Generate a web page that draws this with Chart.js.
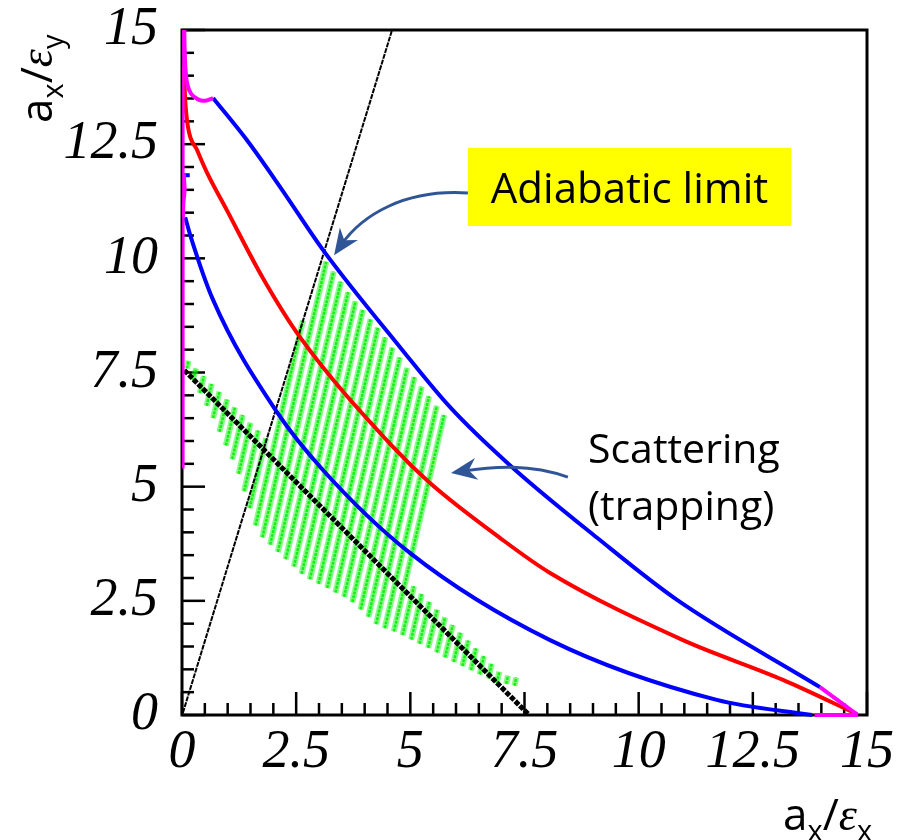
<!DOCTYPE html>
<html>
<head>
<meta charset="utf-8">
<script src="https://cdn.jsdelivr.net/npm/chart.js@4.4.1/dist/chart.umd.min.js"></script>
<style>
  html, body { margin: 0; padding: 0; background: #fff; }
  canvas { display: block; }
</style>
</head>
<body>
<canvas id="phase" width="911" height="840"></canvas>
<script>
// axis ticks (labelled every 2.5, small ticks every 0.5)
const majorTicks = [0, 2.5, 5, 7.5, 10, 12.5, 15];
const minorStep = 0.5;

// outer blue curve = adiabatic limit, with its magenta ends
const outerPinkX = [0.05, 0.06, 0.08, 0.12, 0.2, 0.35, 0.5, 0.68];
const outerPinkY = [15, 14.5, 14.1, 13.8, 13.6, 13.48, 13.45, 13.51];
const outerBlueX = [0.68, 1.42, 2.15, 3.09, 4.77, 5.87, 7.18, 9.09, 10.84, 13.97];
const outerBlueY = [13.51, 12.59, 11.56, 10.18, 8.06, 6.74, 5.47, 3.88, 2.52, 0.61];
const outerTailX = [13.97, 14.8];
const outerTailY = [0.61, 0.0];

// red middle curve
const redX = [0.04, 0.07, 0.13, 0.33, 0.55, 0.99, 1.77, 2.58, 4.62, 5.43, 6.96, 8.06, 10.97, 13.16, 14.78];
const redY = [14.19, 13.47, 12.88, 12.37, 11.87, 11.04, 9.57, 8.28, 5.87, 5.08, 3.88, 3.11, 1.64, 0.77, 0.02];

// inner blue curve
const innerBlueX = [0.07, 0.18, 0.68, 2.08, 3.09, 4.99, 8.06, 11.71, 13.8];
const innerBlueY = [10.9, 10.51, 9.09, 6.63, 5.36, 3.55, 1.64, 0.33, 0.0];
const innerTailX = [13.85, 14.8];
const innerTailY = [0.0, 0.0];
const innerSpikeX = [0.05, 0.07, 0.04, 0.03];
const innerSpikeY = [11.85, 11.5, 11.2, 10.9];
const innerCapX = [0.04, 0.17];
const innerCapY = [11.82, 11.82];
const axisPinkX = [0.03, 0.03];
const axisPinkY = [15, 5.4];

// straight lines
const diagX = [0.05, 7.58];
const diagY = [7.55, 0.02];
const thinX = [0.02, 4.6];
const thinY = [0.05, 15];

// scattered (trapped) particles: one stripe per trajectory, start -> end
const stripeStart = [
  [0.11, 7.59], [0.24, 7.33], [0.39, 7.05], [0.54, 6.77], [0.68, 6.50], [0.82, 6.20],
  [0.96, 5.90], [1.10, 5.60], [1.24, 5.28], [1.36, 4.90], [1.48, 4.53], [1.61, 4.15],
  [1.76, 3.89], [1.93, 3.73], [2.10, 3.57], [2.27, 3.41], [2.45, 3.25], [2.62, 3.09],
  [2.80, 2.97], [2.99, 2.87], [3.18, 2.78], [3.36, 2.68], [3.55, 2.59], [3.73, 2.47],
  [3.91, 2.31], [4.08, 2.15], [4.25, 1.99], [4.44, 1.90], [4.64, 1.83], [4.83, 1.75],
  [5.02, 1.65], [5.20, 1.56], [5.39, 1.47], [5.58, 1.37], [5.76, 1.26], [5.95, 1.16],
  [6.14, 1.07], [6.33, 0.98], [6.52, 0.89], [6.71, 0.80], [6.89, 0.70], [7.10, 0.68],
  [7.28, 0.64]
];
const stripeEnd = [
  [0.14, 7.76], [0.31, 7.59], [0.48, 7.42], [0.65, 7.25], [0.82, 7.08], [0.99, 6.91],
  [1.16, 6.74], [1.33, 6.57], [1.50, 6.40], [1.67, 6.23], [1.84, 6.06], [2.65, 8.64],
  [3.16, 9.93], [3.32, 9.71], [3.48, 9.49], [3.64, 9.26], [3.80, 9.06], [3.96, 8.87],
  [4.13, 8.67], [4.29, 8.48], [4.45, 8.27], [4.61, 8.05], [4.77, 7.83], [4.93, 7.60],
  [5.09, 7.40], [5.25, 7.19], [5.41, 6.98], [5.58, 6.77], [5.74, 6.57], [5.08, 2.82],
  [5.25, 2.65], [5.42, 2.48], [5.59, 2.31], [5.76, 2.14], [5.93, 1.97], [6.10, 1.80],
  [6.27, 1.63], [6.44, 1.46], [6.61, 1.29], [6.78, 1.12], [6.95, 0.95], [7.14, 0.86],
  [7.32, 0.82]
];

const pts = (xs, ys) => xs.map((x, i) => ({ x: x, y: ys[i] }));

const stripePoints = [];
stripeStart.forEach((s, i) => {
  const e = stripeEnd[i];
  stripePoints.push({ x: s[0], y: s[1] }, { x: e[0], y: e[1] }, { x: e[0], y: null });
});

const isMajor = v => Math.abs(v / 2.5 - Math.round(v / 2.5)) < 1e-6;

function curve(data, color, order, extra) {
  return Object.assign({
    data: data,
    showLine: true,
    borderColor: color,
    borderWidth: 4,
    pointRadius: 0,
    cubicInterpolationMode: 'monotone',
    clip: 6,
    order: order
  }, extra || {});
}

// frame plus inward tick marks, drawn under the data
const frameTicks = {
  id: 'frameTicks',
  beforeDatasetsDraw(chart) {
    const { ctx, chartArea: a, scales: { x, y } } = chart;
    ctx.save();
    ctx.strokeStyle = '#000';
    ctx.lineWidth = 3;
    ctx.strokeRect(a.left, a.top, a.right - a.left, a.bottom - a.top);
    ctx.lineWidth = 2.5;
    x.ticks.forEach(t => {
      const px = x.getPixelForValue(t.value);
      ctx.beginPath();
      ctx.moveTo(px, a.bottom);
      ctx.lineTo(px, a.bottom - (isMajor(t.value) ? 23 : 12));
      ctx.stroke();
    });
    y.ticks.forEach(t => {
      const py = y.getPixelForValue(t.value);
      ctx.beginPath();
      ctx.moveTo(a.left, py);
      ctx.lineTo(a.left + (isMajor(t.value) ? 23 : 12), py);
      ctx.stroke();
    });
    ctx.restore();
  }
};

function drawArrow(ctx, p0, c1, c2, tip) {
  const dx = tip[0] - c2[0], dy = tip[1] - c2[1];
  const len = Math.hypot(dx, dy);
  const ux = dx / len, uy = dy / len;
  const head = 26, half = 11, notch = 8;
  ctx.beginPath();
  ctx.moveTo(p0[0], p0[1]);
  ctx.bezierCurveTo(c1[0], c1[1], c2[0], c2[1], tip[0] - ux * notch * 1.5, tip[1] - uy * notch * 1.5);
  ctx.stroke();
  const bx = tip[0] - ux * head, by = tip[1] - uy * head;
  ctx.beginPath();
  ctx.moveTo(tip[0], tip[1]);
  ctx.lineTo(bx - uy * half, by + ux * half);
  ctx.lineTo(tip[0] - ux * (head - notch), tip[1] - uy * (head - notch));
  ctx.lineTo(bx + uy * half, by - ux * half);
  ctx.closePath();
  ctx.fill();
}

// callouts, placed in data units
const callouts = {
  id: 'callouts',
  afterDatasetsDraw(chart) {
    const { ctx, scales: { x, y } } = chart;
    const P = (u, v) => [x.getPixelForValue(u), y.getPixelForValue(v)];
    ctx.save();
    const b0 = P(6.26, 12.42), b1 = P(13.34, 10.71);
    ctx.fillStyle = '#ffff00';
    ctx.fillRect(b0[0], b0[1], b1[0] - b0[0], b1[1] - b0[1]);
    ctx.fillStyle = '#000';
    ctx.font = '42px "Open Sans"';
    ctx.textAlign = 'center';
    ctx.textBaseline = 'alphabetic';
    const t = P(9.8, 11.21);
    ctx.fillText('Adiabatic limit', t[0], t[1]);
    ctx.textAlign = 'left';
    ctx.font = '41px "Open Sans"';
    const s1 = P(8.89, 5.52), s2 = P(8.89, 4.27);
    ctx.fillText('Scattering', s1[0], s1[1]);
    ctx.fillText('(trapping)', s2[0], s2[1]);

    ctx.strokeStyle = '#2f5597';
    ctx.fillStyle = '#2f5597';
    ctx.lineWidth = 3;
    drawArrow(ctx, P(6.26, 11.43), P(4.88, 11.52), P(3.94, 10.95), P(3.33, 10.07));
    drawArrow(ctx, P(8.45, 5.21), P(7.62, 5.50), P(6.85, 5.45), P(5.89, 5.30));
    ctx.restore();
  }
};

function drawPieces(ctx, pieces) {
  let cx = 0;
  pieces.forEach(p => {
    ctx.font = p.font;
    ctx.fillText(p.text, cx, p.dy || 0);
    cx += ctx.measureText(p.text).width;
  });
}

// axis titles with subscripts
const axisTitles = {
  id: 'axisTitles',
  afterDraw(chart) {
    const { ctx, chartArea: a } = chart;
    const main = '44px "Open Sans"', sub = '29px "Open Sans"', eps = 'italic 46px "Liberation Serif"';
    ctx.save();
    ctx.fillStyle = '#000';
    ctx.textAlign = 'left';
    ctx.textBaseline = 'alphabetic';
    ctx.save();
    ctx.translate(a.right - 84, chart.height - 10);
    drawPieces(ctx, [
      { text: 'a', font: main }, { text: 'x', font: sub, dy: 11 },
      { text: '/', font: main }, { text: 'ε', font: eps }, { text: 'x', font: sub, dy: 11 }
    ]);
    ctx.restore();
    ctx.translate(a.left - 130, a.top + 93);
    ctx.rotate(-Math.PI / 2);
    drawPieces(ctx, [
      { text: 'a', font: main }, { text: 'x', font: sub, dy: 11 },
      { text: '/', font: main }, { text: 'ε', font: eps }, { text: 'y', font: sub, dy: 11 }
    ]);
    ctx.restore();
  }
};

const tickFont = { family: '"Liberation Serif", "Times New Roman", serif', style: 'italic', size: 54, lineHeight: 1 };

function axis(padding, size) {
  return {
    type: 'linear',
    min: 0,
    max: 15,
    grid: { display: false, drawTicks: false },
    border: { display: false },
    afterFit: s => {
      size(s);
      s.paddingLeft = 0;
      s.paddingRight = 0;
      s.paddingTop = 0;
      s.paddingBottom = 0;
    },
    ticks: {
      stepSize: minorStep,
      maxTicksLimit: 100,
      autoSkip: false,
      maxRotation: 0,
      padding: padding,
      color: '#000',
      font: tickFont,
      callback: v => (majorTicks.some(m => Math.abs(m - v) < 1e-6) ? String(v) : '')
    }
  };
}

new Chart(document.getElementById('phase'), {
  type: 'scatter',
  data: {
    datasets: [
      // soft outer band of each particle stripe, then its denser core
      curve(stripePoints, 'rgba(20, 245, 20, 0.5)', 21, { cubicInterpolationMode: 'default', tension: 0, borderWidth: 6, spanGaps: false }),
      curve(stripePoints, 'rgba(0, 238, 0, 0.85)', 20, { cubicInterpolationMode: 'default', tension: 0, borderWidth: 2.5, borderDash: [3, 1], spanGaps: false }),
      curve(pts(thinX, thinY), '#000', 15, { borderWidth: 2, borderDash: [5, 1], cubicInterpolationMode: 'default', tension: 0 }),
      curve(pts(diagX, diagY), '#000', 14, { borderWidth: 5, borderDash: [5, 1.5], cubicInterpolationMode: 'default', tension: 0 }),
      curve(pts(innerBlueX, innerBlueY), '#0000ff', 10),
      curve(pts(innerCapX, innerCapY), '#0000ff', 10, { cubicInterpolationMode: 'default', tension: 0 }),
      curve(pts(redX, redY), '#ff0000', 9),
      curve(pts(outerBlueX, outerBlueY), '#0000ff', 8),
      curve(pts(axisPinkX, axisPinkY), '#ff00ff', 6, { borderWidth: 2.5, cubicInterpolationMode: 'default', tension: 0 }),
      curve(pts(outerPinkX, outerPinkY), '#ff00ff', 5, { cubicInterpolationMode: 'default', tension: 0.3 }),
      curve(pts(outerTailX, outerTailY), '#ff00ff', 5, { cubicInterpolationMode: 'default', tension: 0 }),
      curve(pts(innerTailX, innerTailY), '#ff00ff', 5, { cubicInterpolationMode: 'default', tension: 0 }),
      curve(pts(innerSpikeX, innerSpikeY), '#ff00ff', 5, { borderWidth: 3, cubicInterpolationMode: 'default', tension: 0 })
    ]
  },
  options: {
    responsive: false,
    animation: false,
    devicePixelRatio: 1,
    layout: { padding: { left: 0, top: 30, right: 44, bottom: 0 } },
    plugins: { legend: { display: false }, tooltip: { enabled: false } },
    scales: {
      x: axis(11, s => { s.height = 125; }),
      y: axis(24, s => { s.width = 182; })
    }
  },
  plugins: [frameTicks, callouts, axisTitles]
});
</script>
</body>
</html>
